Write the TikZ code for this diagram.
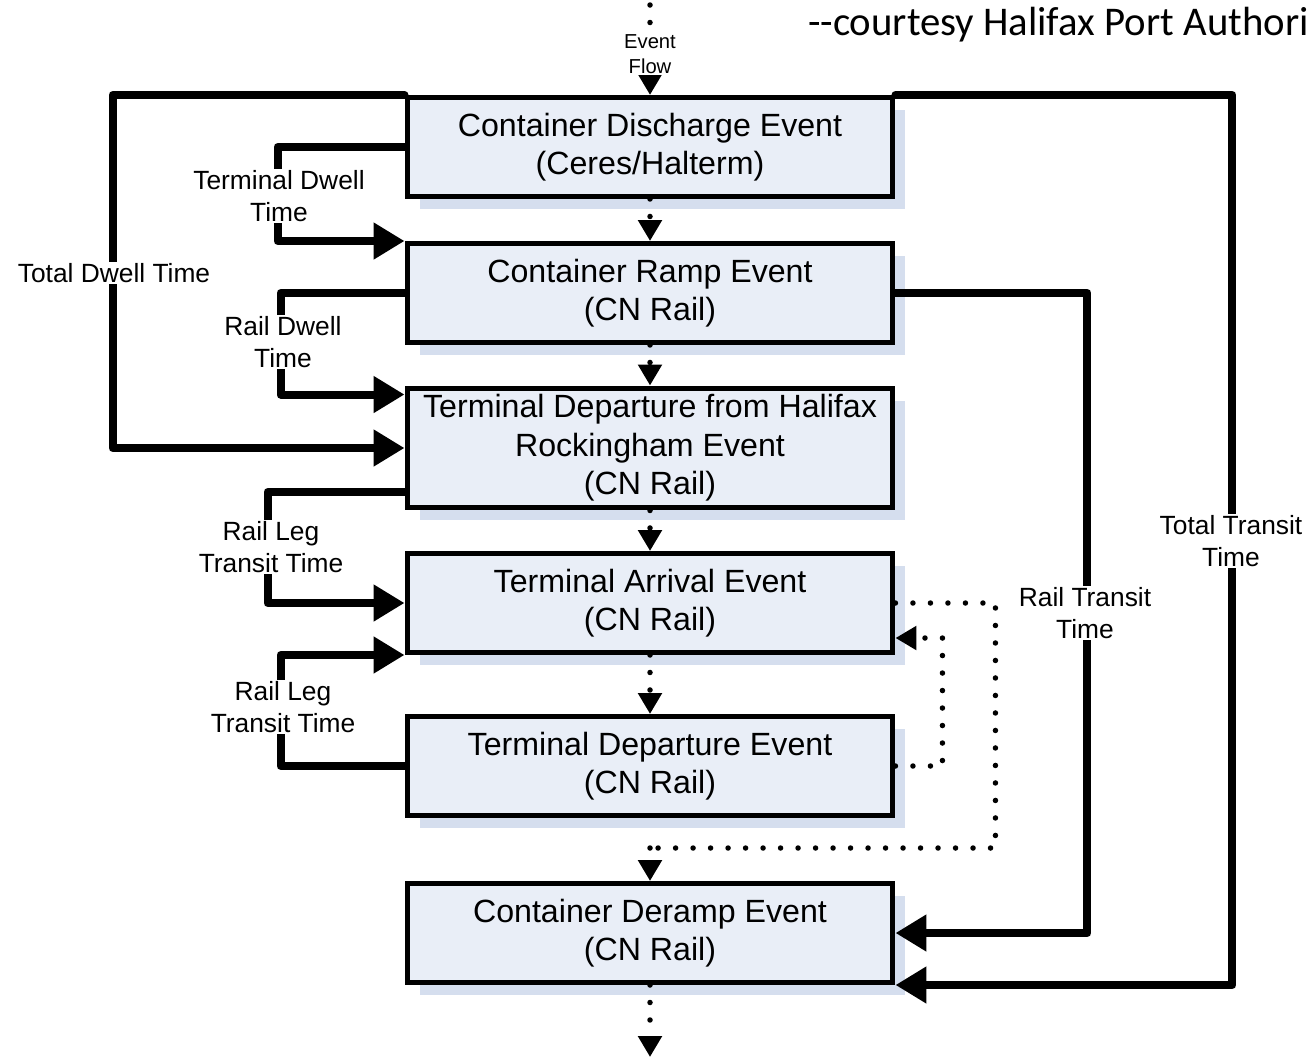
\documentclass[tikz,border=0pt]{standalone}
\usepackage{fontspec}
\setmainfont{Liberation Sans}
\newfontfamily\courtesyfont{Carlito}
\usetikzlibrary{arrows.meta,shadows,calc}
\definecolor{boxfill}{HTML}{E9EEF7}
\definecolor{boxshade}{HTML}{D5DEEE}
\tikzset{x=0.02cm, y=-0.02cm,
    event box/.style={draw, line width=0.1cm, fill=boxfill,
        minimum width=9.72cm, minimum height=1.98cm, inner sep=0pt,
        align=center, font=\fontsize{18.3}{22}\selectfont,
        general shadow={fill=boxshade, shadow xshift=0.25cm, shadow yshift=-0.25cm}},
    dwell line/.style={line width=0.16cm, line join=round, line cap=round},
    dwell arrow/.style={dwell line, -{Triangle[length=0.62cm,width=0.7cm]}},
    flow line/.style={line width=0.11cm, line cap=round, dash pattern=on 0pt off 0.35cm},
    flow arrow/.style={flow line, -{Triangle[length=0.42cm,width=0.46cm]}},
    time label/.style={fill=white, inner sep=1pt, align=center,
        font=\fontsize{15}{18}\selectfont},
    }

\begin{document}
\begin{tikzpicture}
\fill[white] (0,0) rectangle (1312,1059);
\useasboundingbox (0,0) rectangle (1312,1059);

\node[anchor=base east, inner sep=0pt, font=\courtesyfont\fontsize{23.2}{27}\selectfont]
    (courtesy) at (1309,35) {{-}{-}courtesy Halifax Port Authori};

% events
\node[event box] (b1) at (650,147) {Container Discharge Event\\(Ceres/Halterm)};
\node[event box] (b2) at (650,293) {Container Ramp Event\\(CN Rail)};
\node[event box, minimum height=2.4cm] (b3) at (650,448)
    {Terminal Departure from Halifax\\Rockingham Event\\(CN Rail)};
\node[event box] (b4) at (650,603) {Terminal Arrival Event\\(CN Rail)};
\node[event box] (b5) at (650,766) {Terminal Departure Event\\(CN Rail)};
\node[event box] (b6) at (650,933) {Container Deramp Event\\(CN Rail)};

% event flow
\coordinate (flowtop) at (650,5);
\coordinate (merge) at (650,848);
\coordinate (flowbot) at (650,1057);
\draw[flow arrow] (flowtop) -- (b1.north);
\draw[flow arrow] (b1.south) -- (b2.north);
\draw[flow arrow] (b2.south) -- (b3.north);
\draw[flow arrow] (b3.south) -- (b4.north);
\draw[flow arrow] (b4.south) -- (b5.north);
\draw[flow line] (b4.east) -- ++(100,0) |- (merge);
\draw[flow arrow] (merge) -- (b6.north);
\draw[flow arrow] (b5.east) -- ++(47,0) |- ($(b4.east)+(0,35)$);
\draw[flow arrow] (b6.south) -- (flowbot);

% dwell and transit brackets
\draw[dwell arrow] (b1.north west) -- ++(-292,0) |- (b3.west);
\draw[dwell arrow] (b1.west) -- ++(-127,0) |- (b2.north west);
\draw[dwell arrow] (b2.west) -- ++(-124,0) |- ($(b3.north west)+(0,9)$);
\draw[dwell arrow] ($(b3.west)+(0,44)$) -- ++(-137,0) |- (b4.west);
\draw[dwell arrow] (b5.west) -- ++(-124,0) |- (b4.south west);
\draw[dwell arrow] (b1.north east) -- ++(337,0) |- (b6.south east);
\draw[dwell arrow] (b2.east) -- ++(192,0) |- (b6.east);

% labels
\node[time label, font=\fontsize{11.5}{14}\selectfont] (flowlbl) at (650,54) {Event\\Flow};
\node[time label] (totdwell) at (114,273) {Total Dwell Time};
\node[time label] (termdwell) at (279,196) {Terminal Dwell\\Time};
\node[time label] (raildwell) at (283,342) {Rail Dwell\\Time};
\node[time label] (legone) at (271,547) {Rail Leg\\Transit Time};
\node[time label] (legtwo) at (283,707) {Rail Leg\\Transit Time};
\node[time label] (tottransit) at (1231,541) {Total Transit\\Time};
\node[time label] (railtransit) at (1085,613) {Rail Transit\\Time};
\end{tikzpicture}
\end{document}
